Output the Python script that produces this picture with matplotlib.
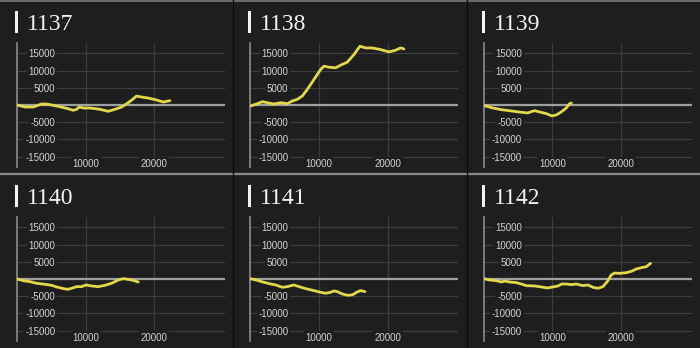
import matplotlib
matplotlib.use('Agg')
import matplotlib.pyplot as plt
from matplotlib.patches import Rectangle
from matplotlib.lines import Line2D

plt.rcParams['axes.unicode_minus'] = False

titles = ['1137', '1138', '1139', '1140', '1141', '1142']

x1137 = [0, 1160, 2380, 3590, 4320, 5770, 7230, 8200, 8690, 9070, 9660, 10630,
         12080, 13290, 14260, 15240, 16210, 16840, 17420, 18150, 19120, 20330,
         21300, 22270]
y1137 = [0, -580, -580, 290, 290, -290, -960, -1540, -1250, -580, -870, -870,
         -1250, -1830, -1250, -580, 670, 1640, 2600, 2310, 2020, 1450, 870, 1250]

x1138 = [0, 780, 1750, 2470, 3440, 4420, 5390, 6110, 6840, 7570, 8300, 9020,
         9750, 10240, 10720, 11450, 12420, 13150, 14120, 15090, 15960, 16790,
         17760, 18970, 20180, 21150, 21880, 22370]
y1138 = [-290, 190, 960, 670, 290, 670, 390, 1160, 1640, 2600, 4530, 6650,
         8860, 10310, 11270, 10980, 10790, 11560, 12430, 14640, 17050, 16570,
         16570, 16090, 15420, 15900, 16570, 16280]

x1139 = [0, 1120, 2570, 4030, 5480, 6450, 6940, 7420, 8150, 9120, 9950, 10580,
         11300, 12030, 12520, 12760]
y1139 = [-100, -770, -1350, -1730, -2120, -2310, -1930, -1640, -2020, -2500,
         -3180, -2890, -2020, -870, 390, 580]

x1140 = [0, 920, 1890, 2860, 4080, 5050, 5770, 6740, 7380, 7960, 8690, 9410,
         10040, 10870, 11840, 12810, 13780, 14750, 15480, 16210, 16930, 17660]
y1140 = [0, -480, -770, -1250, -1540, -1830, -2310, -2790, -2990, -2700, -2220,
         -2220, -1730, -2020, -2220, -1830, -1250, -290, 100, -100, -390, -870]

x1141 = [0, 1020, 1990, 2960, 3690, 4660, 5390, 6360, 7080, 8050, 9270, 10240,
         10970, 11690, 12180, 12660, 13390, 14120, 14850, 15570, 16060, 16690]
y1141 = [100, -390, -960, -1450, -1730, -2410, -2220, -1730, -2220, -2790,
         -3370, -3850, -4140, -3850, -3470, -3660, -4340, -4720, -4620, -3760,
         -3370, -3660]

x1142 = [0, 870, 1840, 2570, 3060, 3780, 4760, 5480, 6210, 7420, 8390, 9270,
         10090, 10820, 11400, 12030, 12760, 13490, 14460, 15190, 15910, 16640,
         17370, 18000, 18580, 19070, 19800, 20770, 21500, 22220, 22950, 23680,
         24310]
y1142 = [100, -290, -480, -870, -580, -870, -1060, -1450, -1930, -2020, -2310,
         -2600, -2310, -2020, -1450, -1450, -1640, -1450, -1930, -1730, -2410,
         -2700, -2220, -770, 1160, 1730, 1640, 1830, 2220, 2890, 3280, 3560, 4530]

xs = [x1137, x1138, x1139, x1140, x1141, x1142]
ys = [y1137, y1138, y1139, y1140, y1141, y1142]

yticks = [-15000, -10000, -5000, 0, 5000, 10000, 15000]
ytick_labels = ['-15000', '-10000', '-5000', '', '5000', '10000', '15000']
xticks = [10000, 20000]
xtick_labels = ['10000', '20000']

bg = '#1e1e1e'
W, H = 700, 348
pw, ph = W / 3, 174

fig = plt.figure(figsize=(7, 3.48), dpi=100, facecolor=bg)

for i in range(6):
    r, c = divmod(i, 3)
    x0 = c * pw
    y0 = r * ph
    ax = fig.add_axes([(x0 + 17) / W, (H - (y0 + 167)) / H, 208 / W, 124 / H])
    ax.set_facecolor(bg)
    ax.set_xlim(0, 30300)
    ax.set_ylim(-18000, 18000)

    for yv in yticks:
        if yv == 0:
            ax.axhline(0, color='#a0a0a0', lw=1.6, zorder=2)
        else:
            ax.axhline(yv, color='#3d3d3d', lw=0.9, zorder=1)
    for xv in xticks:
        ax.axvline(xv, ymin=0.065, ymax=1, color='#3d3d3d', lw=0.9, zorder=1)

    ax.plot(xs[i], ys[i], color='#e3d74c', lw=2.0, zorder=4,
            solid_joinstyle='round', solid_capstyle='round')

    for s in ['top', 'right', 'bottom']:
        ax.spines[s].set_visible(False)
    ax.spines['left'].set_color('#8c8c8c')
    ax.spines['left'].set_linewidth(1.2)

    ax.set_yticks(yticks)
    ax.set_yticklabels(ytick_labels)
    ax.set_xticks(xticks)
    ax.set_xticklabels(xtick_labels)
    ax.tick_params(axis='y', length=0, pad=-27.5, colors='#d4d4d4', labelsize=7)
    ax.tick_params(axis='x', length=0, pad=-6, colors='#d4d4d4', labelsize=7)
    for lab in ax.get_yticklabels() + ax.get_xticklabels():
        lab.set_fontfamily('Liberation Sans')
        lab.set_bbox(dict(facecolor=bg, edgecolor='none', pad=1.2))
        lab.set_zorder(3)

    fig.text((x0 + 27) / W, (H - (y0 + 30.5)) / H, titles[i],
             fontsize=17, family='Liberation Serif', color='#f4f4f4', va='baseline')
    fig.patches.append(Rectangle(((x0 + 15) / W, (H - (y0 + 33)) / H), 3 / W, 22 / H,
                                 transform=fig.transFigure, facecolor='#f4f4f4',
                                 edgecolor='none'))

# panel separators
fig.lines.append(Line2D([0, 1], [1 - 0.5 / H, 1 - 0.5 / H], transform=fig.transFigure,
                        color='#7a7a7a', lw=1.2))
fig.lines.append(Line2D([0, 1], [(H - 174) / H] * 2, transform=fig.transFigure,
                        color='#8a8a8a', lw=1.6))
for c in [1, 2]:
    fig.lines.append(Line2D([c * pw / W] * 2, [0, 1], transform=fig.transFigure,
                            color='#0c0c0c', lw=1.0))

fig.savefig('out.png', dpi=100, facecolor=bg)
